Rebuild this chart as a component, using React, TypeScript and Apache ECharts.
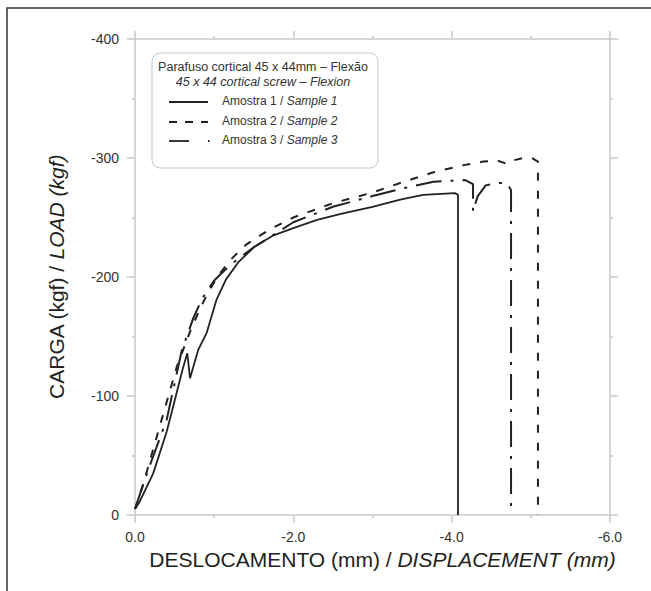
import React, { useEffect, useRef } from "react";
import * as echarts from "echarts";

// Displacement (mm) and load (kgf)
const sample1X = [0, -0.05, -0.23, -0.4, -0.505, -0.6, -0.66, -0.695, -0.8, -0.905, -1.03, -1.15, -1.3, -1.5, -1.75, -2.0, -2.3, -2.6, -3.0, -3.35, -3.64, -4.04, -4.08, -4.08];
const sample1Y = [-5, -10, -35, -70, -97, -122, -136, -115, -139, -153, -181, -198, -212, -225, -235, -241, -248, -253, -259, -265, -269, -270.5, -269, 0];

const sample2X = [0, -0.1, -0.34, -0.53, -0.7, -0.84, -0.95, -1.05, -1.2, -1.4, -1.7, -2.0, -2.5, -3.0, -3.35, -3.77, -4.15, -4.4, -4.57, -4.7, -4.78, -4.9, -5.01, -5.09, -5.09];
const sample2Y = [-5, -25, -81, -125, -155, -176, -190, -201, -214, -227, -240, -250, -262, -271, -279, -288, -294, -297, -298, -295, -298, -300, -300, -297, 0];

const sample3X = [0, -0.15, -0.4, -0.59, -0.74, -0.85, -1.0, -1.2, -1.5, -2.0, -2.5, -3.0, -3.35, -3.77, -4.17, -4.27, -4.27, -4.3, -4.33, -4.43, -4.6, -4.7, -4.75, -4.75];
const sample3Y = [-5, -35, -80, -138, -166, -182, -197, -210, -225, -246, -259, -268, -274, -280, -281.5, -278, -255, -262, -268, -277, -279, -279, -273, 0];

const xTicks = { min: -6, max: 0, interval: 2 };
const yTicks = { min: -400, max: 0, interval: 100 };

const legendTitle = "Parafuso cortical 45 x 44mm – Flexão";
const legendSubtitle = "45 x 44 cortical screw – Flexion";
const legendNames = ["Amostra 1 / ", "Amostra 2 / ", "Amostra 3 / "];
const legendItalic = ["Sample 1", "Sample 2", "Sample 3"];

const FONT = "'Liberation Sans', Arial, Helvetica, sans-serif";
const AXIS_COLOR = "#c8c8c8";
const INK = "#222";

function pairs(xs: number[], ys: number[]) {
  return xs.map((x, i) => [x, ys[i]]);
}

export default function App() {
  const ref = useRef<HTMLDivElement>(null);
  useEffect(() => {
    if (!ref.current) return;
    const chart = echarts.init(ref.current, null, { renderer: "svg" });

    const axisCommon = {
      axisLine: { show: true, onZero: false, lineStyle: { color: AXIS_COLOR, width: 1.5 } },
      axisTick: { show: true, inside: false, length: 8, lineStyle: { color: AXIS_COLOR, width: 1.5 } },
      minorTick: { show: true, splitNumber: 2, length: 3, lineStyle: { color: AXIS_COLOR, width: 1.5 } },
      splitLine: { show: false },
    };

    const xBase = {
      type: "value" as const,
      min: xTicks.min,
      max: xTicks.max,
      interval: xTicks.interval,
      inverse: true,
      ...axisCommon,
    };
    const yBase = {
      type: "value" as const,
      min: yTicks.min,
      max: yTicks.max,
      interval: yTicks.interval,
      inverse: true,
      ...axisCommon,
    };

    const seriesStyle = [
      { type: "solid", width: 1.8 },
      { type: [8, 10], width: 2 },
      { type: [26, 9, 3, 9], width: 2 },
    ];
    const datasets = [
      pairs(sample1X, sample1Y),
      pairs(sample2X, sample2Y),
      pairs(sample3X, sample3Y),
    ];

    const legendRows = [102, 122, 141];
    const legendGraphics: any[] = [];
    legendRows.forEach((y, i) => {
      if (i === 2) {
        legendGraphics.push({
          type: "line",
          z: 20,
          shape: { x1: 169, y1: y, x2: 189, y2: y },
          style: { stroke: INK, lineWidth: 1.8 },
        });
        legendGraphics.push({
          type: "line",
          z: 20,
          shape: { x1: 208, y1: y, x2: 209.5, y2: y },
          style: { stroke: INK, lineWidth: 1.8 },
        });
      } else if (i === 1) {
        legendGraphics.push({
          type: "line",
          z: 20,
          shape: { x1: 169, y1: y, x2: 208, y2: y },
          style: { stroke: INK, lineWidth: 1.8, lineDash: [8, 8] },
        });
      } else {
        legendGraphics.push({
          type: "line",
          z: 20,
          shape: { x1: 169, y1: y, x2: 208, y2: y },
          style: { stroke: INK, lineWidth: 1.8 },
        });
      }
      legendGraphics.push({
        type: "text",
        z: 20,
        x: 222,
        y: y - 7,
        style: {
          text: `{n|${legendNames[i]}}{i|${legendItalic[i]}}`,
          rich: {
            n: { fontFamily: FONT, fontSize: 12, fill: "#333" },
            i: { fontFamily: FONT, fontSize: 12, fontStyle: "italic", fill: "#333" },
          },
        },
      });
    });

    chart.setOption({
      animation: false,
      backgroundColor: "#fff",
      grid: { left: 135, right: 41, top: 39, bottom: 76, containLabel: false },
      xAxis: [
        {
          ...xBase,
          position: "bottom",
          axisLabel: {
            show: true,
            margin: 15,
            fontFamily: FONT,
            fontSize: 14,
            color: "#333",
            formatter: (v: number) => (Math.abs(v) < 1e-9 ? "0.0" : v.toFixed(1)),
          },
          name: "{n|DESLOCAMENTO (mm) / }{i|DISPLACEMENT (mm)}",
          nameLocation: "middle",
          nameGap: 34,
          nameTextStyle: {
            padding: [0, 0, 0, 20],
            rich: {
              n: { fontFamily: FONT, fontSize: 21, color: "#222" },
              i: { fontFamily: FONT, fontSize: 21, fontStyle: "italic", color: "#222" },
            },
          },
        },
        { ...xBase, position: "top", axisLabel: { show: false } },
      ],
      yAxis: [
        {
          ...yBase,
          position: "left",
          axisLabel: {
            show: true,
            margin: 16,
            fontFamily: FONT,
            fontSize: 14,
            color: "#333",
            formatter: (v: number) => String(v),
          },
          name: "{n|CARGA (kgf) / }{i|LOAD (kgf)}",
          nameLocation: "middle",
          nameGap: 68,
          nameRotate: 90,
          nameTextStyle: {
            rich: {
              n: { fontFamily: FONT, fontSize: 21, color: "#222" },
              i: { fontFamily: FONT, fontSize: 21, fontStyle: "italic", color: "#222" },
            },
          },
        },
        { ...yBase, position: "right", axisLabel: { show: false } },
      ],
      series: datasets.map((data, i) => ({
        type: "line",
        data,
        xAxisIndex: 0,
        yAxisIndex: 0,
        showSymbol: false,
        symbol: "none",
        smooth: false,
        lineStyle: { color: INK, ...seriesStyle[i] },
        z: 3,
      })),
      graphic: [
        {
          type: "rect",
          z: 1,
          shape: { x: 7, y: 8, width: 800, height: 800 },
          style: { fill: "none", stroke: "#333", lineWidth: 1.5 },
          silent: true,
        },
        {
          type: "rect",
          z: 10,
          shape: { x: 152, y: 53, width: 226, height: 115, r: 8 },
          style: { fill: "#fff", stroke: "#c8c8c8", lineWidth: 1 },
        },
        {
          type: "text",
          z: 20,
          x: 263,
          y: 60,
          style: {
            text: legendTitle,
            align: "center",
            fontFamily: FONT,
            fontSize: 12.5,
            fill: "#333",
          },
        },
        {
          type: "text",
          z: 20,
          x: 263,
          y: 75,
          style: {
            text: legendSubtitle,
            align: "center",
            fontFamily: FONT,
            fontSize: 12.5,
            fontStyle: "italic",
            fill: "#333",
          },
        },
        ...legendGraphics,
      ],
    });
    return () => chart.dispose();
  }, []);
  return (
    <div
      ref={ref}
      style={{ position: "absolute", left: 0, top: 0, width: 651, height: 591, background: "#fff" }}
    />
  );
}
